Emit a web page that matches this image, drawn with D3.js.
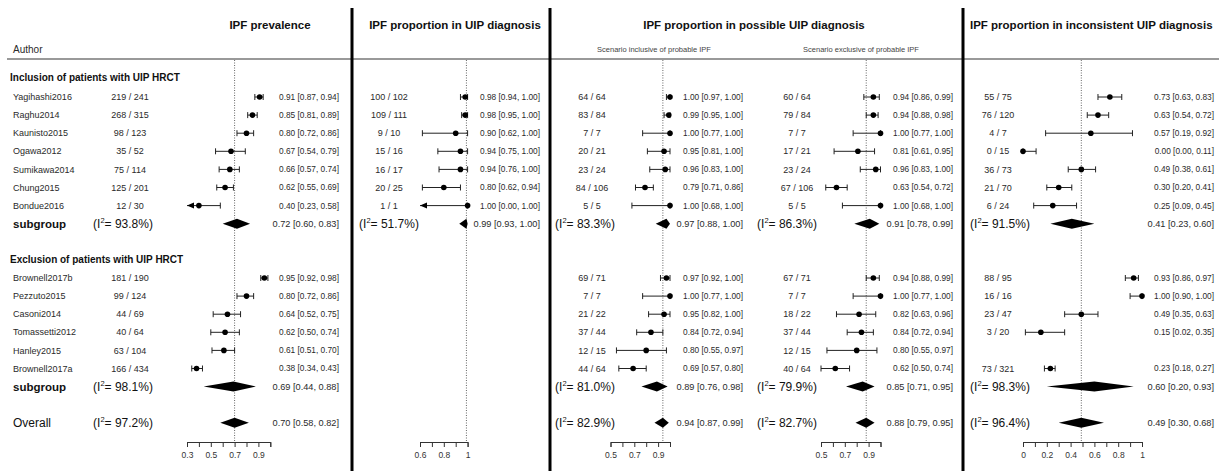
<!DOCTYPE html>
<html>
<head>
<meta charset="utf-8">
<script src="https://cdn.jsdelivr.net/npm/d3@7"></script>
<style>
  body { margin: 0; background: #fff; }
  svg { display: block; }
  text { font-family: "Liberation Sans", Arial, sans-serif; }
</style>
</head>
<body>
<svg id="chart" width="1219" height="471"></svg>
<script>
// ---- Studies and group labels ----
const studiesIncl = ["Yagihashi2016", "Raghu2014", "Kaunisto2015", "Ogawa2012", "Sumikawa2014", "Chung2015", "Bondue2016"];
const studiesExcl = ["Brownell2017b", "Pezzuto2015", "Casoni2014", "Tomassetti2012", "Hanley2015", "Brownell2017a"];
const groupLabels = ["Inclusion of patients with UIP HRCT", "Exclusion of patients with UIP HRCT"];
const panelTitles = ["IPF prevalence", "IPF proportion in UIP diagnosis", "IPF proportion in possible UIP diagnosis", "IPF proportion in inconsistent UIP diagnosis"];
const scenarioLabels = ["Scenario inclusive of probable IPF", "Scenario exclusive of probable IPF"];

// ---- IPF prevalence ----
const prevEvents = [219, 268, 98, 35, 75, 125, 12, 181, 99, 44, 40, 63, 166];
const prevTotals = [241, 315, 123, 52, 114, 201, 30, 190, 124, 69, 64, 104, 434];
const prevEst = [0.91, 0.85, 0.80, 0.67, 0.66, 0.62, 0.40, 0.95, 0.80, 0.64, 0.62, 0.61, 0.38];
const prevLo  = [0.87, 0.81, 0.72, 0.54, 0.57, 0.55, 0.23, 0.92, 0.72, 0.52, 0.50, 0.51, 0.34];
const prevHi  = [0.94, 0.89, 0.86, 0.79, 0.74, 0.69, 0.58, 0.98, 0.86, 0.75, 0.74, 0.70, 0.43];
const prevSubEst = [0.72, 0.69], prevSubLo = [0.60, 0.44], prevSubHi = [0.83, 0.88], prevSubI2 = [93.8, 98.1];
const prevOverall = [0.70, 0.58, 0.82, 97.2];
const prevTicks = [0.3, 0.4, 0.5, 0.6, 0.7, 0.8, 0.9, 1.0];
const prevTickLabels = [0.3, 0.5, 0.7, 0.9];

// ---- IPF proportion in UIP diagnosis ----
const uipEvents = [100, 109, 9, 15, 16, 20, 1, null, null, null, null, null, null];
const uipTotals = [102, 111, 10, 16, 17, 25, 1, null, null, null, null, null, null];
const uipEst = [0.98, 0.98, 0.90, 0.94, 0.94, 0.80, 1.00, null, null, null, null, null, null];
const uipLo  = [0.94, 0.95, 0.62, 0.75, 0.76, 0.62, 0.00, null, null, null, null, null, null];
const uipHi  = [1.00, 1.00, 1.00, 1.00, 1.00, 0.94, 1.00, null, null, null, null, null, null];
const uipSubEst = [0.99, null], uipSubLo = [0.93, null], uipSubHi = [1.00, null], uipSubI2 = [51.7, null];
const uipOverall = null;
const uipTicks = [0.6, 0.7, 0.8, 0.9, 1.0];
const uipTickLabels = [0.6, 0.8, 1];

// ---- Possible UIP, scenario inclusive of probable IPF ----
const possInEvents = [64, 83, 7, 20, 23, 84, 5, 69, 7, 21, 37, 12, 44];
const possInTotals = [64, 84, 7, 21, 24, 106, 5, 71, 7, 22, 44, 15, 64];
const possInEst = [1.00, 0.99, 1.00, 0.95, 0.96, 0.79, 1.00, 0.97, 1.00, 0.95, 0.84, 0.80, 0.69];
const possInLo  = [0.97, 0.95, 0.77, 0.81, 0.83, 0.71, 0.68, 0.92, 0.77, 0.82, 0.72, 0.55, 0.57];
const possInHi  = [1.00, 1.00, 1.00, 1.00, 1.00, 0.86, 1.00, 1.00, 1.00, 1.00, 0.94, 0.97, 0.80];
const possInSubEst = [0.97, 0.89], possInSubLo = [0.88, 0.76], possInSubHi = [1.00, 0.98], possInSubI2 = [83.3, 81.0];
const possInOverall = [0.94, 0.87, 0.99, 82.9];

// ---- Possible UIP, scenario exclusive of probable IPF ----
const possExEvents = [60, 79, 7, 17, 23, 67, 5, 67, 7, 18, 37, 12, 40];
const possExTotals = [64, 84, 7, 21, 24, 106, 5, 71, 7, 22, 44, 15, 64];
const possExEst = [0.94, 0.94, 1.00, 0.81, 0.96, 0.63, 1.00, 0.94, 1.00, 0.82, 0.84, 0.80, 0.62];
const possExLo  = [0.86, 0.88, 0.77, 0.61, 0.83, 0.54, 0.68, 0.88, 0.77, 0.63, 0.72, 0.55, 0.50];
const possExHi  = [0.99, 0.98, 1.00, 0.95, 1.00, 0.72, 1.00, 0.99, 1.00, 0.96, 0.94, 0.97, 0.74];
const possExSubEst = [0.91, 0.85], possExSubLo = [0.78, 0.71], possExSubHi = [0.99, 0.95], possExSubI2 = [86.3, 79.9];
const possExOverall = [0.88, 0.79, 0.95, 82.7];
const possTicks = [0.5, 0.6, 0.7, 0.8, 0.9, 1.0];
const possTickLabels = [0.5, 0.7, 0.9];

// ---- Inconsistent UIP diagnosis ----
const incEvents = [55, 76, 4, 0, 36, 21, 6, 88, 16, 23, 3, null, 73];
const incTotals = [75, 120, 7, 15, 73, 70, 24, 95, 16, 47, 20, null, 321];
const incEst = [0.73, 0.63, 0.57, 0.00, 0.49, 0.30, 0.25, 0.93, 1.00, 0.49, 0.15, null, 0.23];
const incLo  = [0.63, 0.54, 0.19, 0.00, 0.38, 0.20, 0.09, 0.86, 0.90, 0.35, 0.02, null, 0.18];
const incHi  = [0.83, 0.72, 0.92, 0.11, 0.61, 0.41, 0.45, 0.97, 1.00, 0.63, 0.35, null, 0.27];
const incSubEst = [0.41, 0.60], incSubLo = [0.23, 0.20], incSubHi = [0.60, 0.93], incSubI2 = [91.5, 98.3];
const incOverall = [0.49, 0.30, 0.68, 96.4];
const incTicks = [0, 0.1, 0.2, 0.3, 0.4, 0.5, 0.6, 0.7, 0.8, 0.9, 1.0];
const incTickLabels = [0, 0.2, 0.4, 0.6, 0.8, 1];

// ---- Layout ----
const svg = d3.select("#chart");
const W = 1219, H = 471;
const ink = "#2a2a2a";
const fmt = d3.format(".2f");

// row index -> vertical position
const rowY = d3.scaleLinear().domain([0, 1]).range([97, 115.1]);
const studyRow = i => (i < studiesIncl.length ? i : i + 3);
const subRow = [7, 16], headerRow = [-1.1, 9], overallRow = 18;
const axisY = 442, refTop = 60;

const panels = [
  { domain: [0.3, 1.0], range: [187, 270.3], ticks: prevTicks, tickLabels: prevTickLabels,
    countX: 130, i2X: 123, labelX: 339,
    ev: prevEvents, tot: prevTotals, est: prevEst, lo: prevLo, hi: prevHi,
    sEst: prevSubEst, sLo: prevSubLo, sHi: prevSubHi, sI2: prevSubI2, overall: prevOverall },
  { domain: [0.6, 1.0], range: [420, 467.6], ticks: uipTicks, tickLabels: uipTickLabels,
    countX: 389, i2X: 389, labelX: 540,
    ev: uipEvents, tot: uipTotals, est: uipEst, lo: uipLo, hi: uipHi,
    sEst: uipSubEst, sLo: uipSubLo, sHi: uipSubHi, sI2: uipSubI2, overall: uipOverall },
  { domain: [0.5, 1.0], range: [610.5, 670], ticks: possTicks, tickLabels: possTickLabels,
    countX: 592, i2X: 585, labelX: 743,
    ev: possInEvents, tot: possInTotals, est: possInEst, lo: possInLo, hi: possInHi,
    sEst: possInSubEst, sLo: possInSubLo, sHi: possInSubHi, sI2: possInSubI2, overall: possInOverall },
  { domain: [0.5, 1.0], range: [821, 880.5], ticks: possTicks, tickLabels: possTickLabels,
    countX: 797, i2X: 787, labelX: 953,
    ev: possExEvents, tot: possExTotals, est: possExEst, lo: possExLo, hi: possExHi,
    sEst: possExSubEst, sLo: possExSubLo, sHi: possExSubHi, sI2: possExSubI2, overall: possExOverall },
  { domain: [0, 1.0], range: [1023, 1142], ticks: incTicks, tickLabels: incTickLabels,
    countX: 998, i2X: 1000, labelX: 1214,
    ev: incEvents, tot: incTotals, est: incEst, lo: incLo, hi: incHi,
    sEst: incSubEst, sLo: incSubLo, sHi: incSubHi, sI2: incSubI2, overall: incOverall }
];

// ---- Header: titles, rule and panel dividers ----
const titleSpecs = [
  { text: panelTitles[0], x: 270, anchor: "middle" },
  { text: panelTitles[1], x: 455, anchor: "middle" },
  { text: panelTitles[2], x: 754, anchor: "middle" },
  { text: panelTitles[3], x: 970, anchor: "start" }
];
svg.selectAll("text.title").data(titleSpecs).join("text")
  .attr("class", "title")
  .attr("x", d => d.x).attr("y", 25).attr("dy", "0.35em")
  .attr("text-anchor", d => d.anchor)
  .attr("font-size", 11.5).attr("font-weight", "bold").attr("fill", "#111")
  .text(d => d.text);

svg.append("text").attr("x", 13).attr("y", 49).attr("dy", "0.35em")
  .attr("font-size", 10).attr("fill", ink).text("Author");

svg.selectAll("text.scen").data([{ t: scenarioLabels[0], x: 654 }, { t: scenarioLabels[1], x: 861 }]).join("text")
  .attr("class", "scen")
  .attr("x", d => d.x).attr("y", 49).attr("dy", "0.35em")
  .attr("text-anchor", "middle").attr("font-size", 7.5).attr("fill", "#444")
  .text(d => d.t);

svg.append("line").attr("x1", 7).attr("x2", W).attr("y1", 59).attr("y2", 59)
  .attr("stroke", "#777").attr("stroke-width", 1.6);

svg.selectAll("line.divider").data([352, 550, 963]).join("line")
  .attr("class", "divider")
  .attr("x1", d => d).attr("x2", d => d).attr("y1", 8).attr("y2", H)
  .attr("stroke", "#000").attr("stroke-width", 3);

// ---- Left column: group headers, study names, summary labels ----
svg.selectAll("text.group").data(groupLabels).join("text")
  .attr("class", "group")
  .attr("x", 10).attr("y", (d, i) => rowY(headerRow[i])).attr("dy", "0.35em")
  .attr("font-size", 10).attr("font-weight", "bold").attr("fill", "#111")
  .text(d => d);

const allStudies = studiesIncl.concat(studiesExcl);
svg.selectAll("text.study").data(allStudies).join("text")
  .attr("class", "study")
  .attr("x", 13).attr("y", (d, i) => rowY(studyRow(i))).attr("dy", "0.35em")
  .attr("font-size", 9).attr("fill", ink)
  .text(d => d);

svg.selectAll("text.sublab").data(subRow).join("text")
  .attr("class", "sublab")
  .attr("x", 13).attr("y", d => rowY(d)).attr("dy", "0.35em")
  .attr("font-size", 11.5).attr("font-weight", "bold").attr("fill", "#111")
  .text("subgroup");

svg.append("text").attr("x", 13).attr("y", rowY(overallRow)).attr("dy", "0.35em")
  .attr("font-size", 12).attr("fill", "#111").text("Overall");

// I² label with superscript 2
function i2Label(g, x, y, val) {
  const t = g.append("text").attr("x", x).attr("y", y).attr("dy", "0.35em")
    .attr("text-anchor", "middle").attr("font-size", 12).attr("fill", "#111");
  t.append("tspan").text("(I");
  t.append("tspan").attr("font-size", 7.5).attr("dy", -5).text("2");
  t.append("tspan").attr("dy", 5).text("= " + val.toFixed(1) + "%)");
}

function diamond(g, x, y, est, lo, hi, h) {
  g.append("path")
    .attr("d", `M${x(lo)},${y} L${x(est)},${y - h} L${x(hi)},${y} L${x(est)},${y + h} Z`)
    .attr("fill", "#000");
}

// ---- Panels ----
panels.forEach(p => {
  const g = svg.append("g");
  const x = d3.scaleLinear().domain(p.domain).range(p.range);
  const [dMin, dMax] = p.domain;
  const refVal = p.overall ? p.overall[0] : p.sEst[0];

  // reference line at the pooled estimate
  g.append("line")
    .attr("x1", x(refVal)).attr("x2", x(refVal))
    .attr("y1", refTop).attr("y2", axisY)
    .attr("stroke", "#666").attr("stroke-width", 1).attr("stroke-dasharray", "1,1.5");

  // study rows
  p.est.forEach((e, i) => {
    if (e == null) return;
    const y = rowY(studyRow(i));
    g.append("text").attr("x", p.countX).attr("y", y).attr("dy", "0.35em")
      .attr("text-anchor", "middle").attr("font-size", 9).attr("fill", ink)
      .text(`${p.ev[i]} / ${p.tot[i]}`);

    const lo = p.lo[i], hi = p.hi[i];
    const cutLo = lo < dMin, cutHi = hi > dMax;
    const xl = x(Math.max(lo, dMin)), xh = x(Math.min(hi, dMax));
    g.append("line").attr("x1", xl).attr("x2", xh).attr("y1", y).attr("y2", y)
      .attr("stroke", "#222").attr("stroke-width", 1);
    if (cutLo) {
      g.append("path").attr("d", `M${xl},${y} L${xl + 7},${y - 3} L${xl + 7},${y + 3} Z`).attr("fill", "#000");
    } else {
      g.append("line").attr("x1", xl).attr("x2", xl).attr("y1", y - 3).attr("y2", y + 3)
        .attr("stroke", "#222").attr("stroke-width", 1);
    }
    if (!cutHi) {
      g.append("line").attr("x1", xh).attr("x2", xh).attr("y1", y - 3).attr("y2", y + 3)
        .attr("stroke", "#222").attr("stroke-width", 1);
    }
    g.append("circle").attr("cx", x(e)).attr("cy", y).attr("r", 2.8).attr("fill", "#000");

    g.append("text").attr("x", p.labelX).attr("y", y).attr("dy", "0.35em")
      .attr("text-anchor", "end").attr("font-size", 8.3).attr("fill", ink)
      .text(`${fmt(e)} [${fmt(lo)}, ${fmt(hi)}]`);
  });

  // subgroup summaries
  p.sEst.forEach((e, k) => {
    if (e == null) return;
    const y = rowY(subRow[k]);
    diamond(g, x, y, e, p.sLo[k], p.sHi[k], 5);
    i2Label(g, p.i2X, y, p.sI2[k]);
    g.append("text").attr("x", p.labelX).attr("y", y).attr("dy", "0.35em")
      .attr("text-anchor", "end").attr("font-size", 9.2).attr("fill", ink)
      .text(`${fmt(e)} [${fmt(p.sLo[k])}, ${fmt(p.sHi[k])}]`);
  });

  // overall summary
  if (p.overall) {
    const [e, lo, hi, i2] = p.overall;
    const y = rowY(overallRow);
    diamond(g, x, y, e, lo, hi, 5);
    i2Label(g, p.i2X, y, i2);
    g.append("text").attr("x", p.labelX).attr("y", y).attr("dy", "0.35em")
      .attr("text-anchor", "end").attr("font-size", 9.2).attr("fill", ink)
      .text(`${fmt(e)} [${fmt(lo)}, ${fmt(hi)}]`);
  }

  // axis
  const axis = d3.axisBottom(x)
    .tickValues(p.ticks)
    .tickSize(5).tickPadding(5)
    .tickFormat(d => (p.tickLabels.some(v => Math.abs(v - d) < 1e-9) ? String(d) : ""));
  const ag = g.append("g").attr("transform", `translate(0,${axisY})`).call(axis);
  ag.select(".domain").attr("stroke", "#333");
  ag.selectAll(".tick line").attr("stroke", "#333");
  ag.selectAll(".tick text").attr("font-size", 8.5).attr("fill", "#333")
    .attr("font-family", "\"Liberation Sans\", Arial, sans-serif");
});
</script>
</body>
</html>
